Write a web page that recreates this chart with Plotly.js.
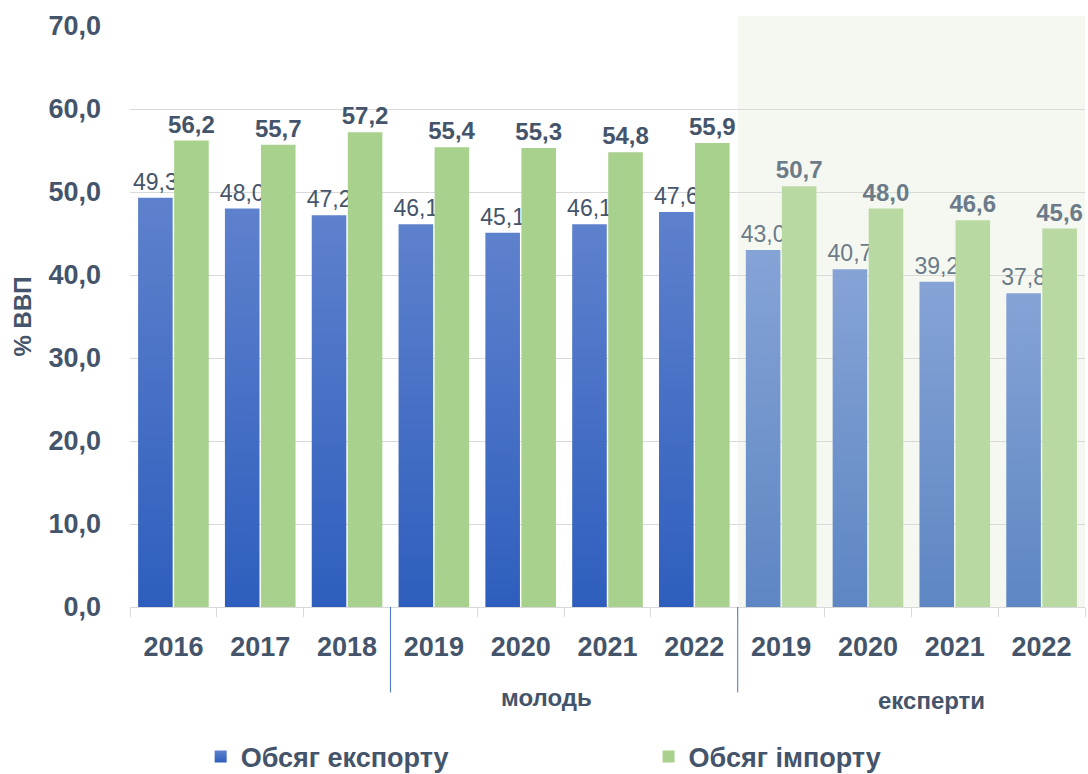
<!DOCTYPE html>
<html>
<head>
<meta charset="utf-8">
<script src="https://cdn.plot.ly/plotly-3.0.1.min.js"></script>
<style>
  html, body { margin: 0; padding: 0; background: #ffffff; }
  #chart { width: 1088px; height: 774px; }
</style>
</head>
<body>
<div id="chart"></div>
<script>
// ---- data ----
const years = ['2016', '2017', '2018', '2019', '2020', '2021', '2022', '2019', '2020', '2021', '2022'];
const groups = ['', '', '', 'молодь', 'молодь', 'молодь', 'молодь', 'експерти', 'експерти', 'експерти', 'експерти'];
const exportVals = [49.3, 48.0, 47.2, 46.1, 45.1, 46.1, 47.6, 43.0, 40.7, 39.2, 37.8];
const importVals = [56.2, 55.7, 57.2, 55.4, 55.3, 54.8, 55.9, 50.7, 48.0, 46.6, 45.6];
const seriesNames = ['Обсяг експорту', 'Обсяг імпорту'];
const groupLabels = ['молодь', 'експерти'];
const yAxisTitle = '% ВВП';

// ---- styling helpers ----
const idx = years.map((_, i) => i);
const isExpert = groups.map(g => g === 'експерти');
const darkText = '#44546a';
const expertText = '#6b7b89';
const labelColors = isExpert.map(e => e ? expertText : darkText);
const exportColors = isExpert.map(e => e ? '#6f93cc' : '#3f69c2');
const importColors = isExpert.map(e => e ? '#b8d9a1' : '#a9d18e');
const font = 'Liberation Sans, Arial, sans-serif';
const legendFont = { family: font, size: 27, color: darkText, weight: 'bold' };

const traces = [
  {
    type: 'bar', name: seriesNames[0], x: idx, y: exportVals, legend: 'legend',
    marker: { color: exportColors, line: { width: 0 } },
    texttemplate: '%{y:.1f}', textposition: 'outside', cliponaxis: false, constraintext: 'none',
    textfont: { family: font, size: 23, color: labelColors, weight: 'normal' },
    hoverinfo: 'skip'
  },
  {
    type: 'bar', name: seriesNames[1], x: idx, y: importVals, legend: 'legend2',
    marker: { color: importColors, line: { width: 0 } },
    texttemplate: '%{y:.1f}', textposition: 'outside', cliponaxis: false, constraintext: 'none',
    textfont: { family: font, size: 24, color: labelColors, weight: 'bold' },
    hoverinfo: 'skip'
  }
];

const firstExpert = isExpert.indexOf(true);
const firstYouth = groups.indexOf('молодь');
const lastIdx = years.length - 1;

const layout = {
  width: 1088, height: 774,
  margin: { l: 130, r: 3, t: 26, b: 167, autoexpand: false },
  paper_bgcolor: '#ffffff', plot_bgcolor: 'rgba(0,0,0,0)',
  separators: ',.',
  barmode: 'group', bargap: 0.17, bargroupgap: 0.04,
  font: { family: font, color: darkText },
  showlegend: true,
  legend: {
    orientation: 'h', x: 0.074, xanchor: 'left', y: -0.258, yanchor: 'middle',
    font: legendFont, bgcolor: 'rgba(0,0,0,0)'
  },
  legend2: {
    orientation: 'h', x: 0.543, xanchor: 'left', y: -0.258, yanchor: 'middle',
    font: legendFont, bgcolor: 'rgba(0,0,0,0)'
  },
  xaxis: {
    type: 'linear', range: [-0.5, lastIdx + 0.5], automargin: false,
    tickmode: 'array', tickvals: idx, ticktext: years,
    ticks: '', showgrid: false, zeroline: false,
    showline: true, linecolor: '#d9d9d9', linewidth: 1,
    tickfont: { family: font, size: 27, color: darkText, weight: 'bold' },
    ticklabelstandoff: 16,
    minor: { tick0: -0.5, dtick: 1, ticks: 'outside', ticklen: 9, tickcolor: '#d9d9d9', showgrid: false }
  },
  yaxis: {
    range: [0, 70], dtick: 10, tickformat: '.1f', automargin: false,
    showgrid: true, gridcolor: '#d9d9d9', gridwidth: 1, zeroline: false,
    showline: false, ticks: '',
    tickfont: { family: font, size: 27, color: darkText, weight: 'bold' },
    ticklabelstandoff: 28,
    title: { text: yAxisTitle, font: { family: font, size: 24, color: darkText, weight: 'bold' }, standoff: 10 }
  },
  shapes: [
    { type: 'rect', xref: 'x', yref: 'paper', x0: firstExpert - 0.5, x1: lastIdx + 0.52, y0: 0, y1: 1.017,
      fillcolor: '#f5f8f1', line: { width: 0 }, layer: 'below' },
    { type: 'line', xref: 'x', yref: 'paper', x0: firstYouth - 0.5, x1: firstYouth - 0.5, y0: 0, y1: -0.147,
      line: { color: '#4472c4', width: 1 } },
    { type: 'line', xref: 'x', yref: 'paper', x0: firstExpert - 0.5, x1: firstExpert - 0.5, y0: 0, y1: -0.147,
      line: { color: '#4472c4', width: 1 } }
  ],
  annotations: [
    { text: groupLabels[0], xref: 'x', yref: 'paper', x: 4.3, y: -0.156, yanchor: 'middle', showarrow: false,
      font: { family: font, size: 24, color: darkText, weight: 'bold' } },
    { text: groupLabels[1], xref: 'x', yref: 'paper', x: 8.73, y: -0.161, yanchor: 'middle', showarrow: false,
      font: { family: font, size: 24, color: darkText, weight: 'bold' } }
  ]
};

Plotly.newPlot('chart', traces, layout, { displayModeBar: false, staticPlot: true }).then(gd => {
  const ns = 'http://www.w3.org/2000/svg';
  const svg = gd.querySelector('.main-svg');
  let defs = svg.querySelector('defs');
  if (!defs) { defs = document.createElementNS(ns, 'defs'); svg.insertBefore(defs, svg.firstChild); }
  function addGrad(id, top, bottom) {
    const g = document.createElementNS(ns, 'linearGradient');
    g.setAttribute('id', id);
    g.setAttribute('x1', '0'); g.setAttribute('y1', '0'); g.setAttribute('x2', '0'); g.setAttribute('y2', '1');
    [[0, top], [1, bottom]].forEach(([o, c]) => {
      const s = document.createElementNS(ns, 'stop');
      s.setAttribute('offset', o); s.setAttribute('stop-color', c);
      g.appendChild(s);
    });
    defs.appendChild(g);
  }
  addGrad('gYouth', '#5e81cd', '#2e5ebd');
  addGrad('gExpert', '#86a3d6', '#5d86c3');
  const barTraces = gd.querySelectorAll('.barlayer .trace');
  if (barTraces.length) {
    barTraces[0].querySelectorAll('.point path').forEach((p, i) => {
      p.style.fill = isExpert[i] ? 'url(#gExpert)' : 'url(#gYouth)';
    });
  }
  const lp = gd.querySelector('.legend .traces .legendpoints path');
  if (lp) lp.style.fill = 'url(#gYouth)';
});
</script>
</body>
</html>
